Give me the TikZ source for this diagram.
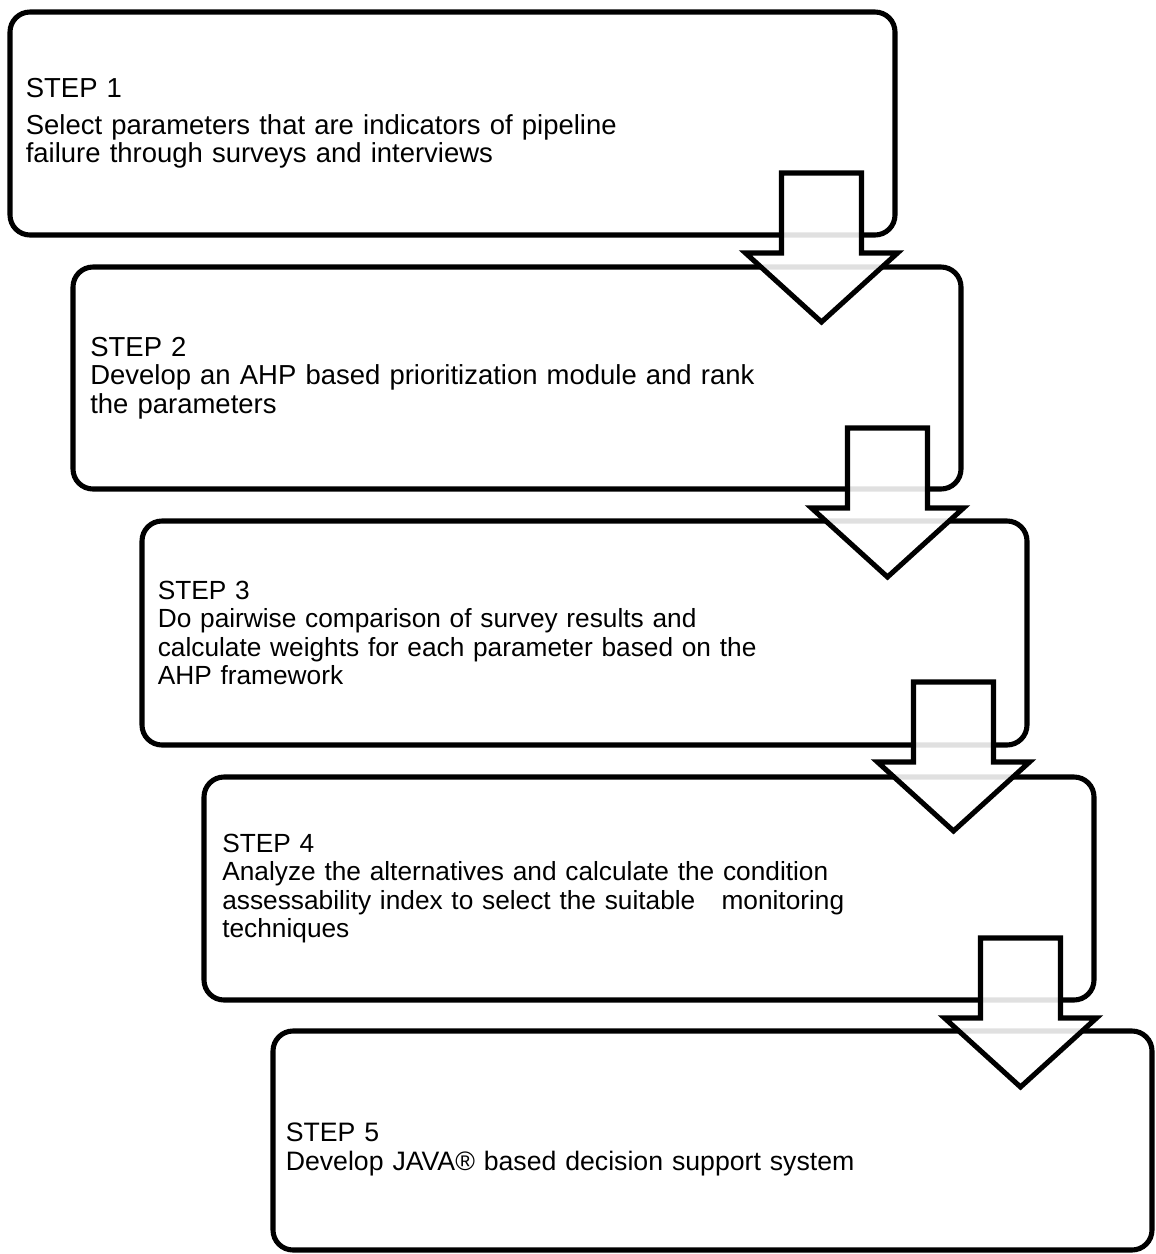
\documentclass[tikz,border=0pt]{standalone}
\usepackage{fontspec}
\setmainfont{Liberation Sans}
\tikzset{
  stepbox/.style={draw, line width=3.8pt, rounded corners=15pt, outer sep=0pt,
    anchor=north west, inner xsep=9pt, inner ysep=0pt, text width=640pt, align=left,
    font=\fontsize{19.7}{21.4}\selectfont},
  widebox/.style={stepbox, font=\fontsize{20.6}{21.4}\selectfont},
  arrowshape/.style={draw, line width=3.8pt, fill=white, fill opacity=0.88, miter limit=10},
  blockarrow/.pic={
    \path[arrowshape] (0,0) -- (80,0) -- (80,80) -- (116,80) -- (40,149)
      -- (-36,80) -- (0,80) -- cycle;
  }
}
\begin{document}
\begin{tikzpicture}[x=0.75pt, y=-0.75pt]
    \useasboundingbox (0,0) rectangle (1156,1254);
    \node [widebox, minimum width=885*0.75pt, minimum height=223*0.75pt] (s1) at (10,12)
      {STEP 1\\[6pt]Select parameters that are indicators of pipeline\\failure through surveys and interviews};
    \node [widebox, minimum width=888*0.75pt, minimum height=222*0.75pt] (s2) at (73,267)
      {STEP 2\\Develop an AHP based prioritization module and rank\\the parameters};
    \node [stepbox, minimum width=885*0.75pt, minimum height=224*0.75pt] (s3) at (142,521)
      {STEP 3\\Do pairwise comparison of survey results and\\calculate weights for each parameter based on the\\AHP framework};
    \node [stepbox, minimum width=890*0.75pt, minimum height=223*0.75pt] (s4) at (204,777)
      {STEP 4\\Analyze the alternatives and calculate the condition\\assessability index to select the suitable\ \ \ monitoring\\techniques};
    \node [stepbox, font=\fontsize{20}{21.4}\selectfont, minimum width=879*0.75pt, minimum height=219*0.75pt] (s5) at (273,1031)
      {\rule{0pt}{27pt}STEP 5\\Develop JAVA® based decision support system};
    % arrows between the steps
    \pic at ([shift={(-113.5,161)}]s1.north east) {blockarrow};
    \pic at ([shift={(-113.5,161)}]s2.north east) {blockarrow};
    \pic at ([shift={(-113.5,161)}]s3.north east) {blockarrow};
    \pic at ([shift={(-113.5,161)}]s4.north east) {blockarrow};
\end{tikzpicture}
\end{document}
